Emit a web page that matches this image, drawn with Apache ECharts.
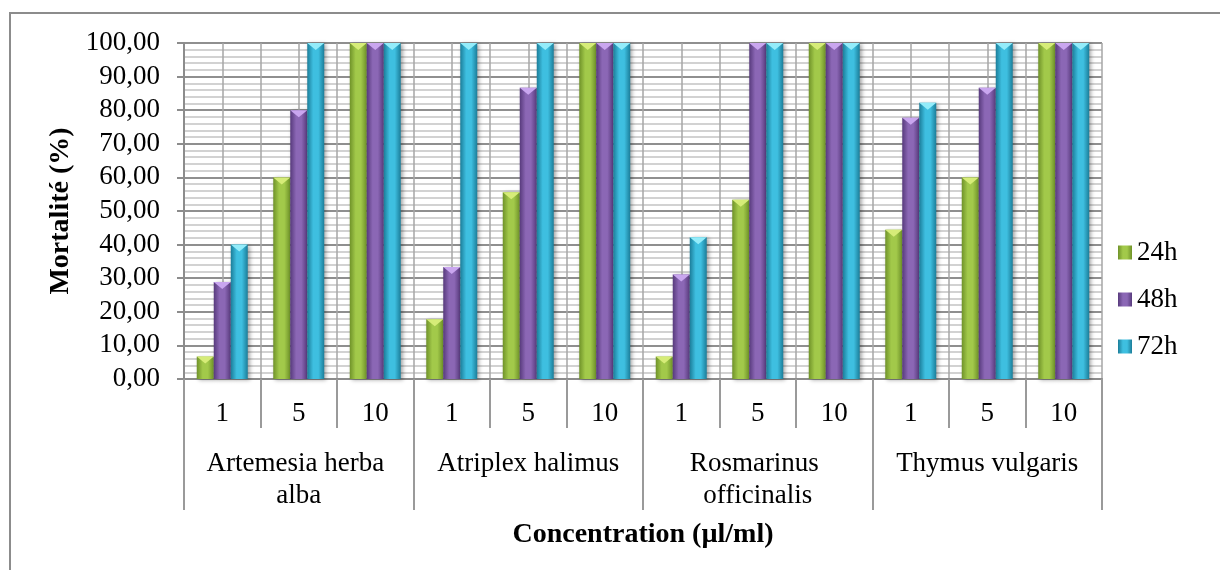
<!DOCTYPE html>
<html>
<head>
<meta charset="utf-8">
<script src="https://cdn.jsdelivr.net/npm/echarts@6/dist/echarts.min.js"></script>
<style>
  html, body { margin: 0; padding: 0; background: #fff; }
  #chart { width: 1220px; height: 570px; }
</style>
</head>
<body>
<div id="chart"></div>
<script>
// catégories (2 niveaux)
const concentrations = ['1', '5', '10', '1', '5', '10', '1', '5', '10', '1', '5', '10']
const species = ['Artemesia herba alba', 'Atriplex halimus', 'Rosmarinus officinalis', 'Thymus vulgaris']
const seriesNames = ['24h', '48h', '72h']
// mortalité (%)
const h24 = [6.67, 60, 100, 17.78, 55.56, 100, 6.67, 53.33, 100, 44.44, 60, 100]
const h48 = [28.89, 80, 100, 33.33, 86.67, 100, 31.11, 100, 100, 77.78, 86.67, 100]
const h72 = [40, 100, 100, 100, 100, 100, 42.22, 100, 100, 82.22, 100, 100]

const FONT = '"Liberation Serif", "Times New Roman", serif'
const chart = echarts.init(document.getElementById('chart'))

// couleurs façon Excel (corps en dégradé + biseau clair en haut)
const palettes = [
  { edge: '#6f9229', mid: '#a2c94a', top: '#d6ec78' },
  { edge: '#573a7c', mid: '#8b67b5', top: '#c9a6ef' },
  { edge: '#1b7d99', mid: '#3ebfe0', top: '#93ecfa' }
]
const grad = p => ({
  type: 'linear', x: 0, y: 0, x2: 1, y2: 0,
  colorStops: [
    { offset: 0, color: p.edge },
    { offset: 0.35, color: p.mid },
    { offset: 0.65, color: p.mid },
    { offset: 1, color: p.edge }
  ]
})

const values = [h24, h48, h72]
const barSeries = values.map((data, i) => ({
  name: seriesNames[i],
  type: 'bar',
  xAxisIndex: 0,
  data,
  barWidth: 17,
  barGap: '0%',
  itemStyle: {
    color: grad(palettes[i]),
    shadowColor: 'rgba(0,0,0,0.35)',
    shadowBlur: 4,
    shadowOffsetX: 2,
    shadowOffsetY: 1
  },
  z: 2
}))
// petit triangle en haut de chaque barre
const capSeries = values.map((data, i) => ({
  name: seriesNames[i] + '-cap',
  type: 'pictorialBar',
  xAxisIndex: 0,
  data,
  barWidth: 17,
  barGap: '0%',
  symbol: 'path://M0,0 L10,0 L5,5 Z',
  symbolSize: [17, 7],
  symbolPosition: 'end',
  itemStyle: { color: palettes[i].top },
  z: 3
}))

const tickStyle = { color: '#9a9a9a', width: 2 }

chart.setOption({
  animation: false,
  textStyle: { fontFamily: FONT },
  graphic: [{
    type: 'rect',
    shape: { x: 10, y: 13, width: 1400, height: 800 },
    style: { fill: 'none', stroke: '#8c8c8c', lineWidth: 2 },
    silent: true
  }],
  legend: {
    data: seriesNames,
    orient: 'vertical',
    left: 1113,
    top: 234,
    itemGap: 20,
    itemWidth: 14,
    itemHeight: 14,
    icon: 'rect',
    textStyle: { fontFamily: FONT, fontSize: 27, color: '#000' }
  },
  grid: { left: 184, right: 118, top: 43, bottom: 191 },
  xAxis: [
    {
      type: 'category',
      data: concentrations,
      axisLine: { show: true, lineStyle: { color: '#8c8c8c', width: 2 } },
      axisTick: { show: true, length: 49, interval: 0, lineStyle: tickStyle },
      axisLabel: { interval: 0, margin: 21, fontSize: 27, lineHeight: 27, color: '#000', fontFamily: FONT }
    },
    {
      type: 'category',
      data: species,
      position: 'bottom',
      axisLine: { show: false },
      axisTick: { show: true, length: 131, interval: 0, lineStyle: tickStyle },
      axisLabel: {
        interval: 0, margin: 69, fontSize: 27, lineHeight: 32, color: '#000', fontFamily: FONT,
        width: 205, overflow: 'break'
      },
      name: 'Concentration (µl/ml)',
      nameLocation: 'middle',
      nameGap: 142,
      nameTextStyle: { fontSize: 28, fontWeight: 'bold', color: '#000', fontFamily: FONT }
    },
    {
      // lignes verticales du quadrillage (bords + milieux des catégories)
      type: 'value',
      min: 0,
      max: 24,
      interval: 1,
      axisLine: { show: false },
      axisTick: { show: false },
      axisLabel: { show: false },
      splitLine: { show: true, lineStyle: { color: '#a6a6a6', width: 1.5 } }
    }
  ],
  yAxis: {
    type: 'value',
    min: 0,
    max: 100,
    interval: 10,
    axisLine: { show: true, lineStyle: { color: '#8c8c8c', width: 2 } },
    axisTick: { show: true, length: 7, lineStyle: { color: '#8c8c8c', width: 2 } },
    axisLabel: {
      margin: 24, fontSize: 27, color: '#000', fontFamily: FONT,
      formatter: v => v.toFixed(2).replace('.', ',')
    },
    splitLine: { lineStyle: { color: '#8f8f8f', width: 2 } },
    minorTick: { show: false, splitNumber: 5 },
    minorSplitLine: { show: true, lineStyle: { color: '#c4c4c4', width: 1.5 } },
    name: 'Mortalité (%)',
    nameLocation: 'middle',
    nameRotate: 90,
    nameGap: 109,
    nameTextStyle: { fontSize: 28, fontWeight: 'bold', color: '#000', fontFamily: FONT }
  },
  series: [...barSeries, ...capSeries]
})
</script>
</body>
</html>
